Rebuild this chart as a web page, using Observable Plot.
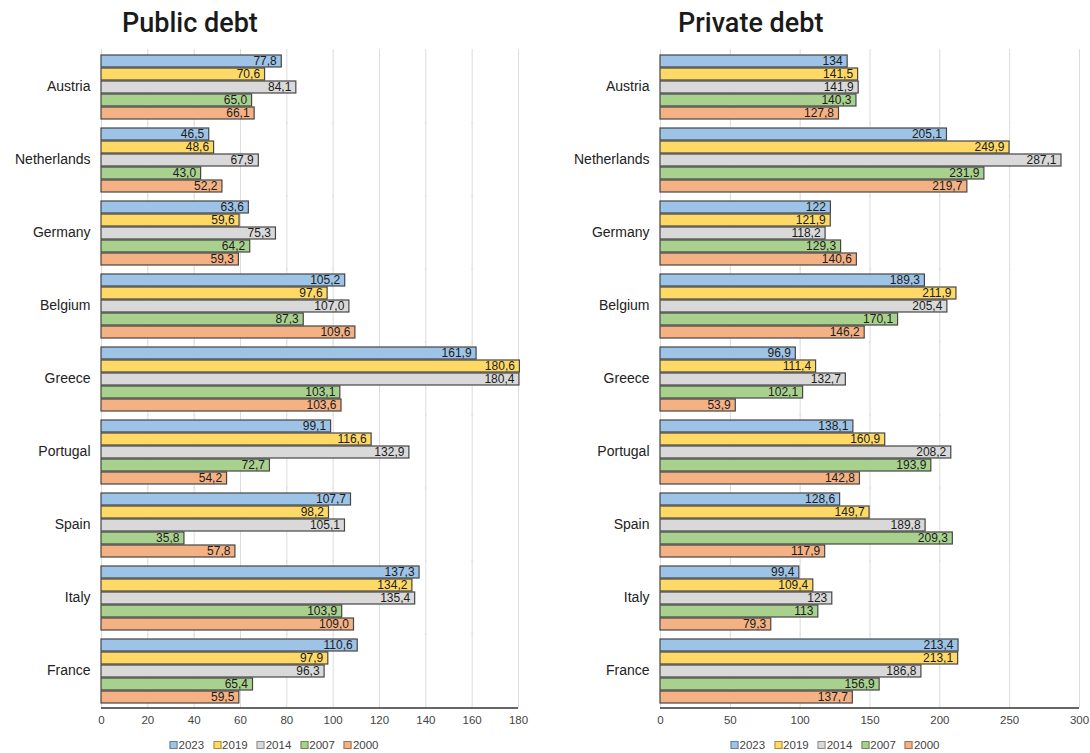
<!DOCTYPE html>
<html>
<head>
<meta charset="utf-8">
<script src="https://cdn.jsdelivr.net/npm/d3@7"></script>
<script src="https://cdn.jsdelivr.net/npm/@observablehq/plot@0.6"></script>
<style>
  html, body { margin: 0; padding: 0; background: #fff; }
  #root { position: relative; width: 1090px; height: 753px; overflow: hidden; background: #fff; font-family: "Liberation Sans", Arial, sans-serif; }
  .panel { position: absolute; top: 0; width: 545px; height: 753px; }
  .title { position: absolute; font-family: Roboto, "Liberation Sans", sans-serif; font-weight: 500; font-size: 27px; line-height: 27px; color: #1a1a1a; white-space: nowrap; }
  .chart { position: absolute; top: 45px; left: 0; }
  .legend { position: absolute; top: 739px; display: flex; gap: 9px; font-size: 11.5px; color: #444; transform: translateX(-50%); white-space: nowrap; }
  .legend .item { display: flex; align-items: center; gap: 1px; }
  .legend .sw { width: 6px; height: 6px; border: 1px solid #555; display: inline-block; }
</style>
</head>
<body>
<div id="root">
  <div class="panel" id="left"><div class="title" style="left:122px;top:10px">Public debt</div></div>
  <div class="panel" id="right" style="left:545px"><div class="title" style="left:133px;top:10px">Private debt</div></div>
</div>
<script>
const countries = ["Austria","Netherlands","Germany","Belgium","Greece","Portugal","Spain","Italy","France"];
const years = ["2023","2019","2014","2007","2000"];
const colors = ["#9DC3E6","#FFD966","#D9D9D9","#A9D18E","#F4B183"];

// Public debt (% of GDP)
const public2023 = [77.8, 46.5, 63.6, 105.2, 161.9, 99.1, 107.7, 137.3, 110.6];
const public2019 = [70.6, 48.6, 59.6, 97.6, 180.6, 116.6, 98.2, 134.2, 97.9];
const public2014 = [84.1, 67.9, 75.3, 107.0, 180.4, 132.9, 105.1, 135.4, 96.3];
const public2007 = [65.0, 43.0, 64.2, 87.3, 103.1, 72.7, 35.8, 103.9, 65.4];
const public2000 = [66.1, 52.2, 59.3, 109.6, 103.6, 54.2, 57.8, 109.0, 59.5];

// Private debt (% of GDP)
const private2023 = [134, 205.1, 122, 189.3, 96.9, 138.1, 128.6, 99.4, 213.4];
const private2019 = [141.5, 249.9, 121.9, 211.9, 111.4, 160.9, 149.7, 109.4, 213.1];
const private2014 = [141.9, 287.1, 118.2, 205.4, 132.7, 208.2, 189.8, 123, 186.8];
const private2007 = [140.3, 231.9, 129.3, 170.1, 102.1, 193.9, 209.3, 113, 156.9];
const private2000 = [127.8, 219.7, 140.6, 146.2, 53.9, 142.8, 117.9, 79.3, 137.7];

const publicTicks = [0, 20, 40, 60, 80, 100, 120, 140, 160, 180];
const privateTicks = [0, 50, 100, 150, 200, 250, 300];

function build(series, fmt) {
  const rows = [];
  countries.forEach((c, i) => {
    years.forEach((y, j) => {
      const v = series[j][i];
      rows.push({country: c, year: y, value: v, label: fmt(v)});
    });
  });
  return rows;
}
const publicData = build([public2023, public2019, public2014, public2007, public2000], v => v.toFixed(1).replace(".", ","));
const privateData = build([private2023, private2019, private2014, private2007, private2000], v => String(v).replace(".", ","));

function panel(data, ticks, marginLeft, marginRight) {
  const lastCountry = countries[countries.length - 1];
  const lastYear = years[years.length - 1];
  return Plot.plot({
    width: 545,
    height: 684,
    marginTop: 4,
    marginBottom: 22,
    marginLeft,
    marginRight,
    style: {fontFamily: '"Liberation Sans", Arial, sans-serif', background: "white", overflow: "visible"},
    x: {domain: [ticks[0], ticks[ticks.length - 1]], label: null},
    y: {domain: years, axis: null, paddingInner: 0.08, paddingOuter: 0},
    fy: {domain: countries, paddingInner: 0.11, paddingOuter: 0.05, label: null},
    color: {domain: years, range: colors},
    marks: [
      Plot.gridX(ticks, {stroke: "#dcdcdc", strokeOpacity: 1, strokeWidth: 1, insetTop: -5, insetBottom: -5}),
      Plot.barX(data, {fy: "country", y: "year", x: "value", fill: "year", stroke: "#454545", strokeWidth: 1.2}),
      Plot.text(data, {fy: "country", y: "year", x: "value", text: "label", textAnchor: "end", dx: -5, fontSize: 12, fill: "#1c1c1c"}),
      Plot.axisX(ticks, {anchor: "bottom", tickSize: 0, tickPadding: 12, fontSize: 11.5, fill: "#444", label: null}),
      Plot.axisFy({anchor: "left", tickSize: 0, tickPadding: 11, fontSize: 14, fill: "#222", label: null}),
      Plot.ruleY([{country: lastCountry, year: lastYear}], {fy: "country", y: "year", dy: 10.5, stroke: "#333", strokeWidth: 1.6})
    ]
  });
}

function legend(centerX) {
  const div = document.createElement("div");
  div.className = "legend";
  div.style.left = centerX + "px";
  years.forEach((y, i) => {
    const item = document.createElement("span");
    item.className = "item";
    const sw = document.createElement("span");
    sw.className = "sw";
    sw.style.background = colors[i];
    sw.style.borderColor = d3.color(colors[i]).darker(1.2).formatHex();
    item.appendChild(sw);
    item.appendChild(document.createTextNode(y));
    div.appendChild(item);
  });
  return div;
}

const left = document.getElementById("left");
const c1 = panel(publicData, publicTicks, 101, 27);
c1.classList.add("chart");
left.appendChild(c1);
left.appendChild(legend(274));

const right = document.getElementById("right");
const c2 = panel(privateData, privateTicks, 115, 11);
c2.classList.add("chart");
right.appendChild(c2);
right.appendChild(legend(290));
</script>
</body>
</html>
